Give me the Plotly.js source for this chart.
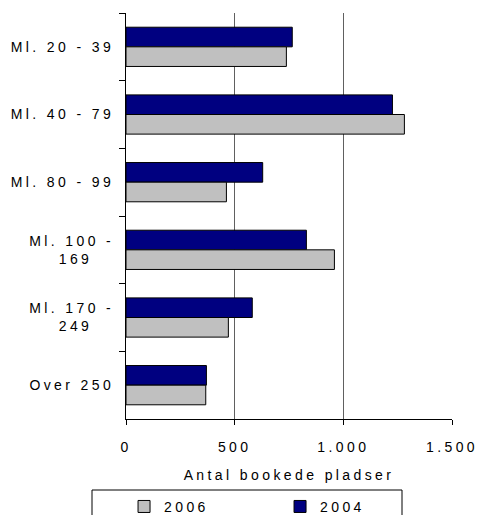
<!DOCTYPE html>
<html>
<head>
<meta charset="utf-8">
<script src="https://cdn.plot.ly/plotly-3.0.1.min.js"></script>
<style>
html,body{margin:0;padding:0;background:#fff;}
#chart{width:481px;height:515px;}
#chart svg text{letter-spacing:3.4px;}
</style>
</head>
<body>
<div id="chart"></div>
<script>
const categories = ["Ml. 20 - 39", "Ml. 40 - 79", "Ml. 80 - 99", "Ml. 100 -<br>169&nbsp;&nbsp;&nbsp;", "Ml. 170 -<br>249&nbsp;&nbsp;&nbsp;", "Over 250"];
const values2004 = [765, 1226, 629, 830, 581, 370];
const values2006 = [738, 1281, 462, 959, 471, 367];
const xTickVals = [0, 500, 1000, 1500];

const font = {family: "Liberation Sans, Arial, sans-serif", size: 14, color: "#000"};

const traces = [
  {type: "bar", orientation: "h", name: "2004", y: categories, x: values2004,
   marker: {color: "#000080", line: {color: "#000", width: 1}}, hoverinfo: "x"},
  {type: "bar", orientation: "h", name: "2006", y: categories, x: values2006,
   marker: {color: "#c0c0c0", line: {color: "#000", width: 1}}, hoverinfo: "x"}
];

const layout = {
  width: 481, height: 515,
  margin: {l: 126, r: 29, t: 13, b: 96, autoexpand: false},
  paper_bgcolor: "#fff", plot_bgcolor: "#fff",
  font: font,
  separators: ",.",
  barmode: "group",
  bargap: 0.42,
  bargroupgap: 0,
  showlegend: true,
  legend: {orientation: "h", traceorder: "reversed", x: -0.006, xanchor: "left", xref: "paper",
           y: -0.177, yanchor: "top", entrywidth: 111, entrywidthmode: "pixels",
           font: font, bgcolor: "rgba(0,0,0,0)", borderwidth: 0},
  xaxis: {range: [0, 1500], tickvals: xTickVals, tickformat: ",", showgrid: true,
          gridcolor: "#606060", gridwidth: 1, showline: true, linecolor: "#000", linewidth: 1,
          ticks: "outside", ticklen: 5, tickcolor: "#000", zeroline: false, ticklabelstandoff: 10,
          tickfont: font, title: {text: "Antal bookede pladser", font: font, standoff: 16}},
  yaxis: {autorange: "reversed", showline: true, linecolor: "#000", linewidth: 1,
          ticks: "outside", tickson: "boundaries", ticklen: 6, tickcolor: "#000",
          showgrid: false, zeroline: false, tickfont: font, ticklabelstandoff: 8},
  shapes: [{type: "rect", xref: "paper", yref: "paper",
            x0: (92 - 126) / 326, x1: (402 - 126) / 326,
            y0: (419 - 490) / 406, y1: (419 - 530) / 406,
            line: {color: "#000", width: 1}, fillcolor: "rgba(0,0,0,0)"}]
};

Plotly.newPlot("chart", traces, layout, {displayModeBar: false, staticPlot: true});
</script>
</body>
</html>
